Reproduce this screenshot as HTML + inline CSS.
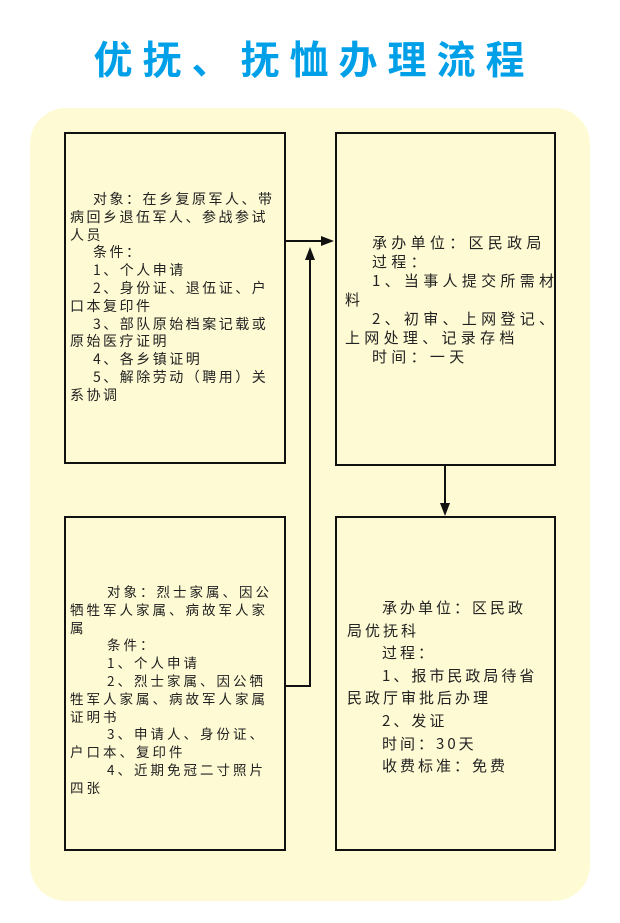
<!DOCTYPE html>
<html><head><meta charset="utf-8"><style>
body{margin:0;width:620px;height:923px;background:#fff;position:relative;overflow:hidden;font-family:"Liberation Sans","Noto Sans CJK SC",sans-serif}
.t{position:absolute;left:0;width:620px;top:30px;text-align:center;color:#00a0e9;font-size:39px;font-weight:bold;letter-spacing:10px;font-family:"Noto Sans CJK SC","WenQuanYi Zen Hei",sans-serif;padding-left:8px;box-sizing:border-box}
.panel{position:absolute;left:30px;top:108px;width:560px;height:793px;background:#fefbd4;border-radius:36px}
.box{position:absolute;border:2px solid #111;background:#fefbd4;box-sizing:border-box}
.tx{position:absolute;white-space:nowrap;color:#222;font-family:"Noto Sans CJK SC",sans-serif}
.tx div{height:inherit}
</style></head><body>
<div class="t">优抚、抚恤办理流程</div>
<div class="panel"></div>
<div class="box" style="left:64px;top:132px;width:222px;height:332px"></div>
<div class="box" style="left:335px;top:132px;width:221px;height:334px"></div>
<div class="box" style="left:64px;top:516px;width:222px;height:335px"></div>
<div class="box" style="left:335px;top:516px;width:221px;height:335px"></div>
<div class="tx" style="left:70px;top:191px;font-size:14px;line-height:17.8px;letter-spacing:2.5px">
<div style="padding-left:23px">对象：在乡复原军人、带</div>
<div>病回乡退伍军人、参战参试</div>
<div>人员</div>
<div style="padding-left:23px">条件：</div>
<div style="padding-left:23px">1、个人申请</div>
<div style="padding-left:23px">2、身份证、退伍证、户</div>
<div>口本复印件</div>
<div style="padding-left:23px">3、部队原始档案记载或</div>
<div>原始医疗证明</div>
<div style="padding-left:23px">4、各乡镇证明</div>
<div style="padding-left:23px">5、解除劳动（聘用）关</div>
<div>系协调</div>
</div>
<div class="tx" style="left:345px;top:233px;font-size:15px;line-height:19px;letter-spacing:4.3px">
<div style="padding-left:27px">承办单位：区民政局</div>
<div style="padding-left:27px">过程：</div>
<div style="padding-left:27px">1、当事人提交所需材</div>
<div>料</div>
<div style="padding-left:27px">2、初审、上网登记、</div>
<div>上网处理、记录存档</div>
<div style="padding-left:27px">时间：一天</div>
</div>
<div class="tx" style="left:70px;top:583px;font-size:13.5px;line-height:17.8px;letter-spacing:3px">
<div style="padding-left:37px">对象：烈士家属、因公</div>
<div>牺牲军人家属、病故军人家</div>
<div>属</div>
<div style="padding-left:37px">条件：</div>
<div style="padding-left:37px">1、个人申请</div>
<div style="padding-left:37px">2、烈士家属、因公牺</div>
<div>牲军人家属、病故军人家属</div>
<div>证明书</div>
<div style="padding-left:37px">3、申请人、身份证、</div>
<div>户口本、复印件</div>
<div style="padding-left:37px">4、近期免冠二寸照片</div>
<div>四张</div>
</div>
<div class="tx" style="left:347px;top:597px;font-size:15px;line-height:22.6px;letter-spacing:3px">
<div style="padding-left:35px">承办单位：区民政</div>
<div>局优抚科</div>
<div style="padding-left:35px">过程：</div>
<div style="padding-left:35px">1、报市民政局待省</div>
<div>民政厅审批后办理</div>
<div style="padding-left:35px">2、发证</div>
<div style="padding-left:35px">时间：30天</div>
<div style="padding-left:35px">收费标准：免费</div>
</div>
<svg width="620" height="923" style="position:absolute;left:0;top:0">
<g stroke="#111" stroke-width="2" fill="none">
<line x1="286" y1="241" x2="324" y2="241"/>
<polyline points="286,686 310,686 310,256"/>
<line x1="445" y1="466" x2="445" y2="506"/>
</g>
<g fill="#111">
<polygon points="334,241 321,236 321,246"/>
<polygon points="310,247 305,260 315,260"/>
<polygon points="445,516 440,503 450,503"/>
</g>
</svg>
</body></html>
